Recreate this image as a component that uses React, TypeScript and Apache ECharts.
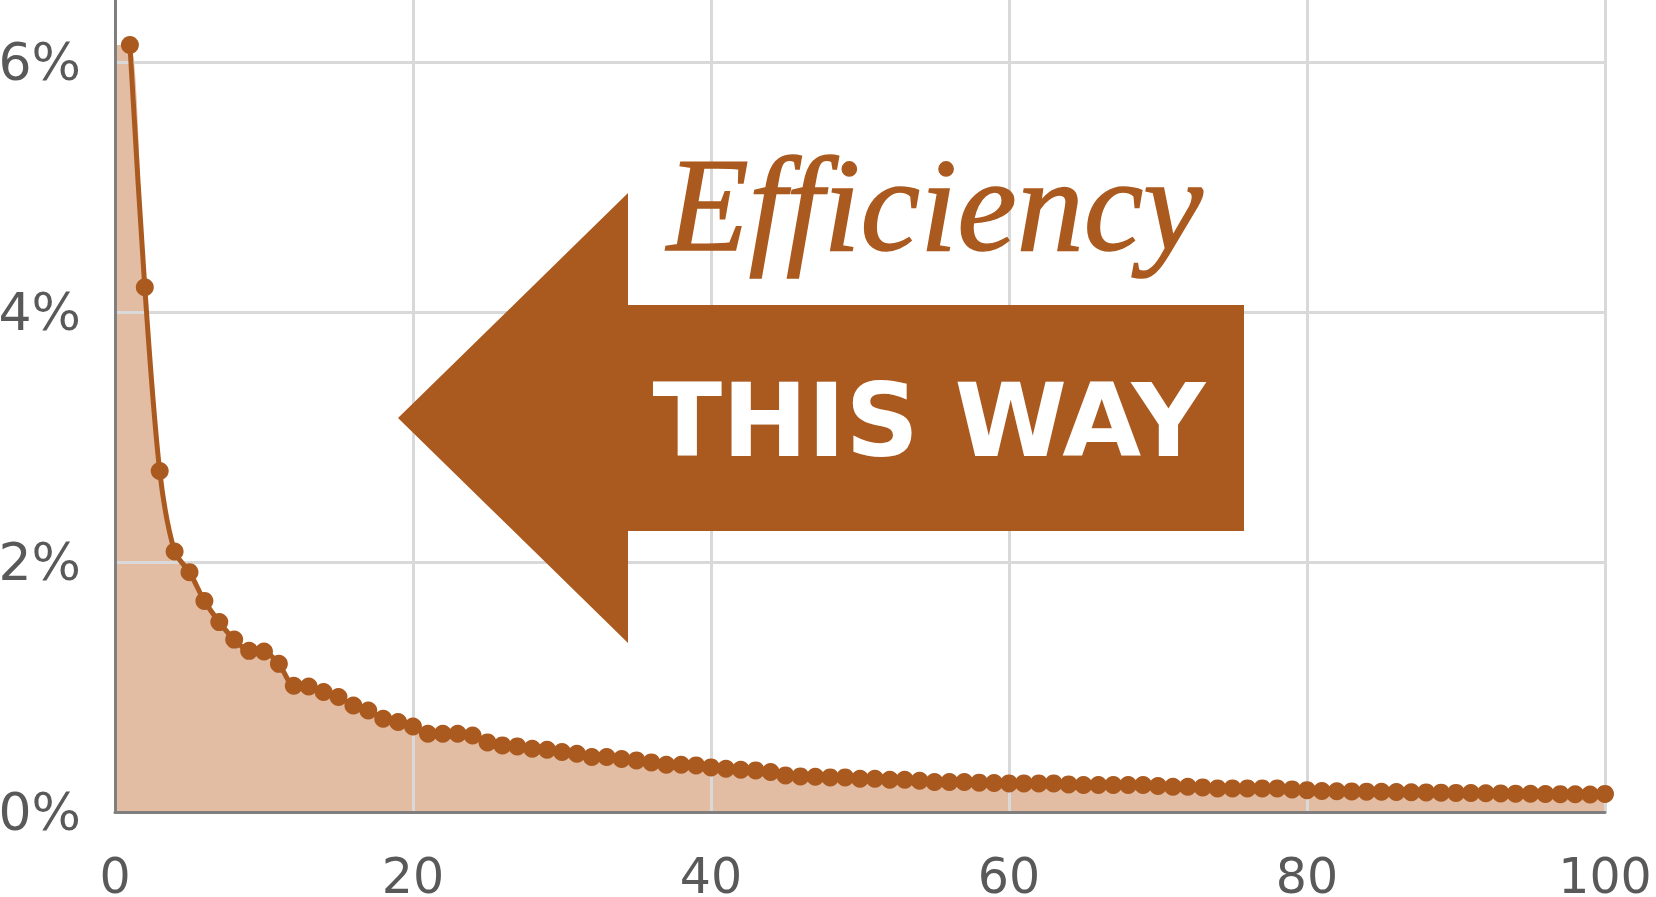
import React, { useEffect, useRef } from "react";
import * as echarts from "echarts";

const xValues: number[] = Array.from({ length: 100 }, (_, i) => i + 1);
const shareValues: number[] = [
  6.14, 4.2, 2.73, 2.085, 1.92, 1.69, 1.52, 1.38, 1.29, 1.285,
  1.186, 1.01, 1.005, 0.96, 0.92, 0.853, 0.813, 0.746, 0.72, 0.685,
  0.626, 0.626, 0.626, 0.613, 0.557, 0.533, 0.525, 0.506, 0.498, 0.48,
  0.466, 0.44, 0.44, 0.424, 0.413, 0.397, 0.378, 0.378, 0.373, 0.357,
  0.346, 0.338, 0.333, 0.32, 0.293, 0.285, 0.282, 0.277, 0.277, 0.266,
  0.266, 0.258, 0.258, 0.25, 0.24, 0.24, 0.24, 0.235, 0.232, 0.229,
  0.229, 0.229, 0.229, 0.221, 0.216, 0.216, 0.216, 0.216, 0.216, 0.208,
  0.202, 0.202, 0.197, 0.189, 0.189, 0.189, 0.189, 0.189, 0.181, 0.175,
  0.168, 0.166, 0.165, 0.163, 0.162, 0.16, 0.158, 0.157, 0.155, 0.153,
  0.152, 0.15, 0.149, 0.147, 0.146, 0.144, 0.143, 0.142, 0.14, 0.145,
];
const yTicks: number[] = [0, 2, 4, 6];
const xTicks: number[] = [0, 20, 40, 60, 80, 100];
const calloutTitle = "Efficiency";
const calloutText = "THIS WAY";

const LINE = "#ab5a1f";
const FILL = "#e2bda3";
const GRID = "#d9d9d9";
const AXIS = "#7f7f7f";
const LABEL = "#595959";

export default function App() {
  const ref = useRef<HTMLDivElement>(null);
  useEffect(() => {
    document.body.style.margin = "0";
    if (!ref.current) return;
    const chart = echarts.init(ref.current, undefined, { renderer: "svg" });
    const lineData = xValues.map((x, i) => [x, shareValues[i]]);
    const areaData = [[0, shareValues[0]], ...lineData];
    chart.setOption({
      animation: false,
      grid: {
        left: 115,
        right: 51,
        top: 0,
        bottom: 85,
        containLabel: false,
        outerBoundsMode: "none",
      },
      xAxis: {
        type: "value",
        z: 2,
        min: xTicks[0],
        max: xTicks[xTicks.length - 1],
        interval: 20,
        axisLine: { show: true, onZero: false, lineStyle: { color: AXIS, width: 3 } },
        axisTick: { show: false },
        axisLabel: {
          color: LABEL,
          fontSize: 49,
          lineHeight: 36,
          fontFamily: "DejaVu Sans",
          margin: 46,
          showMinLabel: true,
          showMaxLabel: true,
        },
        splitLine: { show: true, showMinLine: false, lineStyle: { color: GRID, width: 3 } },
      },
      yAxis: {
        type: "value",
        z: 2,
        min: 0,
        max: 6.5,
        interval: 2,
        axisLine: { show: true, lineStyle: { color: AXIS, width: 3 } },
        axisTick: { show: false },
        axisLabel: {
          color: LABEL,
          fontSize: 52,
          fontFamily: "DejaVu Sans",
          margin: 34,
          showMaxLabel: false,
          formatter: (v: number) => (yTicks.includes(v) ? v + "%" : ""),
        },
        splitLine: {
          show: true,
          showMinLine: false,
          showMaxLine: false,
          lineStyle: { color: GRID, width: 3 },
        },
      },
      series: [
        {
          type: "line",
          data: areaData,
          smooth: 0.3,
          showSymbol: false,
          lineStyle: { width: 0 },
          areaStyle: { color: FILL, opacity: 1 },
          silent: true,
          z: 1,
        },
        {
          type: "line",
          data: lineData,
          smooth: 0.3,
          symbol: "circle",
          symbolSize: 18,
          showSymbol: true,
          itemStyle: { color: LINE },
          lineStyle: { color: LINE, width: 5 },
          z: 3,
        },
      ],
      graphic: [
        {
          type: "polygon",
          z: 100,
          shape: {
            points: [
              [398, 418],
              [628, 193],
              [628, 305],
              [1244, 305],
              [1244, 531],
              [628, 531],
              [628, 643],
            ],
          },
          style: { fill: LINE },
        },
        {
          type: "text",
          z: 101,
          x: 929,
          y: 420,
          style: {
            text: calloutText,
            fill: "#ffffff",
            font: "bold 102px 'DejaVu Sans'",
            align: "center",
            verticalAlign: "middle",
          },
        },
        {
          type: "text",
          z: 101,
          x: 667,
          y: 205,
          style: {
            text: calloutTitle,
            fill: LINE,
            stroke: LINE,
            lineWidth: 1.5,
            font: "italic 134px 'Liberation Serif'",
            align: "left",
            verticalAlign: "middle",
          },
        },
      ],
    });
    return () => chart.dispose();
  }, []);
  return <div ref={ref} style={{ width: 1656, height: 897 }} />;
}
